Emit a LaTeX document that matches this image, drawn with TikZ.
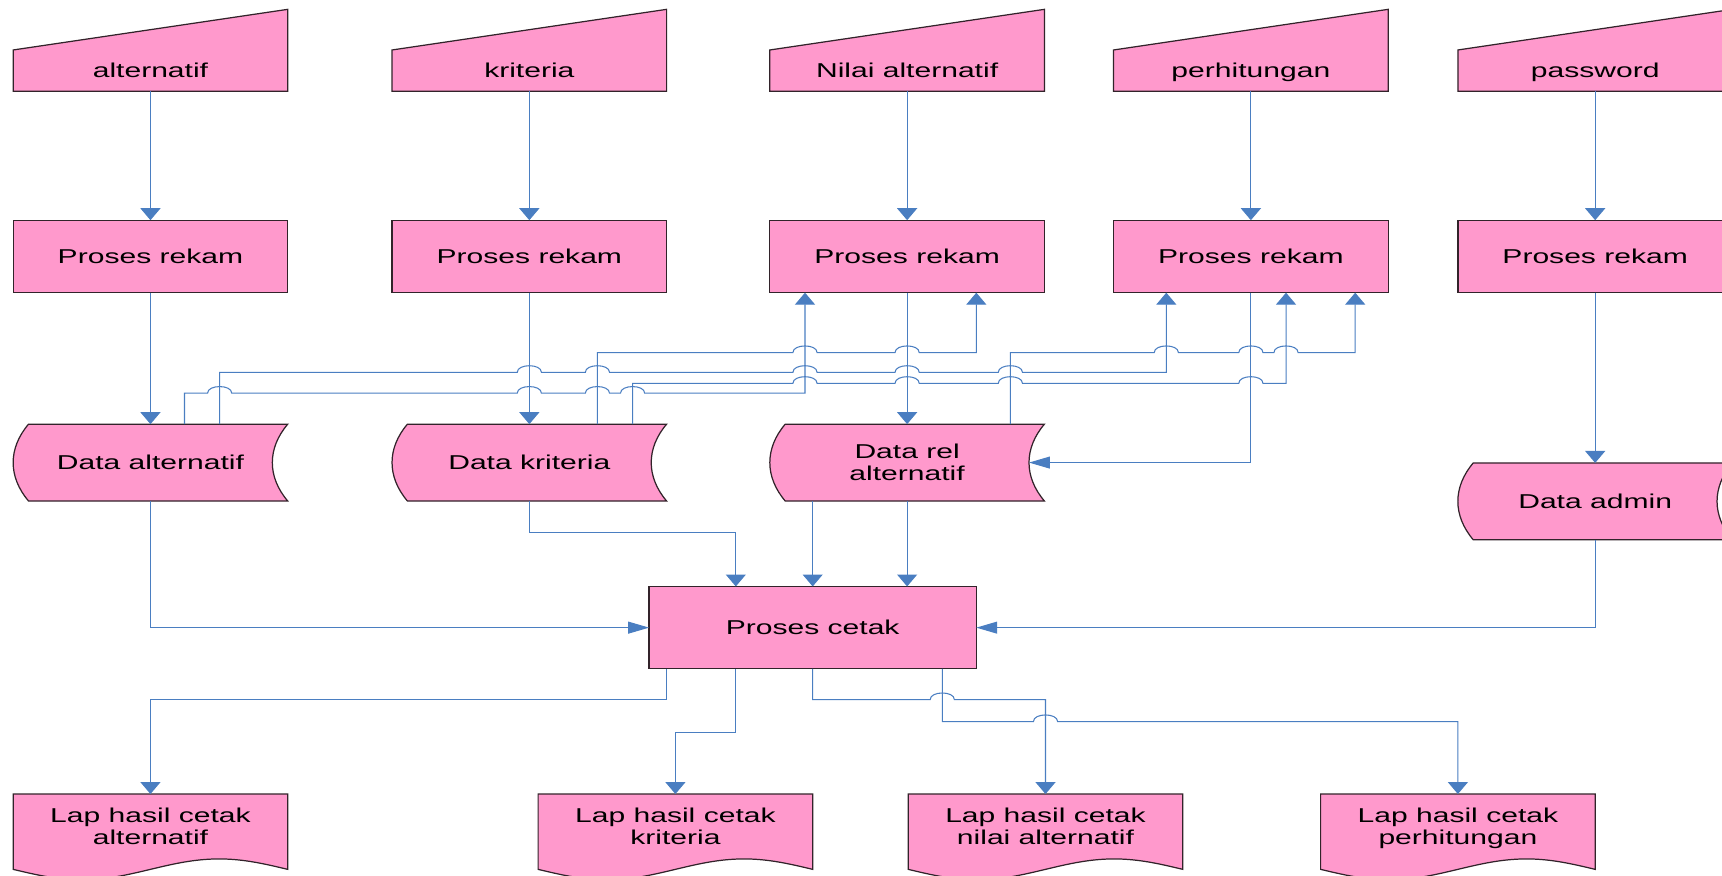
\documentclass[tikz,border=0pt]{standalone}
\usepackage{fontspec}
\setmainfont{Liberation Sans}[FakeStretch=1.5]
\usetikzlibrary{arrows.meta,calc,backgrounds}

\definecolor{boxpink}{RGB}{255,153,204}
\definecolor{flowblue}{RGB}{74,126,193}
\definecolor{edgedark}{RGB}{50,35,42}

% one drawing unit
\def\pu{0.021964cm}

% a horizontal line hopping over a vertical one at x=#1, y=#2
\newcommand\jumpover[2]{-- ({#1-11},#2) .. controls ({#1-11},{#2-8}) and ({#1+11},{#2-8}) .. ({#1+11},#2)}

\tikzset{
  lbl/.style={font=\fontsize{11.4}{12.5}\selectfont, text=black, align=center,
              inner sep=0pt, outer sep=0pt, text depth=0pt, minimum width=250*\pu},
  shapefill/.style={fill=boxpink, draw=edgedark, line width=0.7pt},
  procbox/.style={lbl, rectangle, shapefill, minimum height=66*\pu},
  inbox/.style={lbl, minimum height=37.5*\pu},
  storebox/.style={lbl, minimum height=70*\pu},
  docbox/.style={lbl, minimum height=58*\pu},
  flow/.style={draw=flowblue, line width=0.6pt},
  vtip/.style={flow, -{Triangle[width=11.4pt,length=6.8pt]}},
  htip/.style={flow, -{Triangle[width=6.8pt,length=11.9pt]}},
}

\begin{document}
\begin{tikzpicture}[x=\pu, y=-\pu]
\useasboundingbox (0,0) rectangle (1568,797);
\clip (0,0) rectangle (1568,797);

% manual inputs
\node[inbox] (inp1) at (137,64.25) {alternatif};
\node[inbox] (inp2) at (482,64.25) {kriteria};
\node[inbox] (inp3) at (826,64.25) {Nilai alternatif};
\node[inbox] (inp4) at (1139,64.25) {perhitungan};
\node[inbox] (inp5) at (1452.5,64.25) {password};

% record processes
\node[procbox] (rek1) at (137,233.5) {Proses rekam};
\node[procbox] (rek2) at (482,233.5) {Proses rekam};
\node[procbox] (rek3) at (826,233.5) {Proses rekam};
\node[procbox] (rek4) at (1139,233.5) {Proses rekam};
\node[procbox] (rek5) at (1452.5,233.5) {Proses rekam};

% stored data
\node[storebox] (ds1) at (137,421.2) {Data alternatif};
\node[storebox] (ds2) at (482,421.2) {Data kriteria};
\node[storebox] (ds3) at (826,421.2) {Data rel\\alternatif};
\node[storebox] (ds4) at (1452.5,456.5) {Data admin};

% print process
\node[procbox, minimum width=298*\pu, minimum height=75*\pu] (pc) at (740,571.5) {Proses cetak};

% reports
\node[docbox] (lap1) at (137,752) {Lap hasil cetak\\alternatif};
\node[docbox] (lap2) at (615,752) {Lap hasil cetak\\kriteria};
\node[docbox] (lap3) at (952,752) {Lap hasil cetak\\nilai alternatif};
\node[docbox] (lap4) at (1327.5,752) {Lap hasil cetak\\perhitungan};

\begin{pgfonlayer}{background}
  \foreach \n in {inp1,inp2,inp3,inp4,inp5}
    \path[shapefill] (\n.south west) -- (\n.north west)
      -- ($(\n.north east)+(0,-37)$) -- (\n.south east) -- cycle;
  \foreach \n in {ds1,ds2,ds3,ds4}
    \path[shapefill] ($(\n.north west)+(14,0)$) -- (\n.north east)
      .. controls ($(\n.north east)+(-18.7,22)$) and ($(\n.south east)+(-18.7,-22)$) .. (\n.south east)
      -- ($(\n.south west)+(14,0)$)
      .. controls ($(\n.south west)+(-4.7,-22)$) and ($(\n.north west)+(-4.7,22)$) .. ($(\n.north west)+(14,0)$)
      -- cycle;
  \foreach \n in {lap1,lap2,lap3,lap4}
    \path[shapefill] (\n.north west) -- (\n.north east) -- ($(\n.north east)+(0,68.6)$)
      sin ($(\n.north east)+(-62.5,59.1)$) cos ($(\n.north)+(0,68.6)$)
      sin ($(\n.north west)+(62.5,78.1)$) cos ($(\n.north west)+(0,68.6)$) -- cycle;
\end{pgfonlayer}

% inputs to record processes
\foreach \i in {1,...,5}
  \draw[vtip] (inp\i.south) -- (rek\i.north);

% record processes to stored data
\draw[vtip] (rek1.south) -- (ds1.north);
\draw[vtip] (rek2.south) -- (ds2.north);
\draw[vtip] (rek3.south) -- (ds3.north);
\draw[vtip] (rek5.south) -- (ds4.north);
\draw[htip] (rek4.south) |- ($(ds3.east)+(-14,0)$);

% stored data back to record processes
\draw[vtip] (168,0 |- ds1.north) -- (168,358) \jumpover{200}{358} \jumpover{482}{358}
  \jumpover{544}{358} \jumpover{576}{358} -- (733,358) -- (733,0 |- rek3.south);
\draw[vtip] (200,0 |- ds1.north) -- (200,339) \jumpover{482}{339} \jumpover{544}{339}
  \jumpover{733}{339} \jumpover{826}{339} \jumpover{920}{339} -- (1062,339) -- (1062,0 |- rek4.south);
\draw[vtip] (544,0 |- ds2.north) -- (544,321) \jumpover{733}{321} \jumpover{826}{321}
  -- (889,321) -- (889,0 |- rek3.south);
\draw[vtip] (576,0 |- ds2.north) -- (576,349) \jumpover{733}{349} \jumpover{826}{349}
  \jumpover{920}{349} \jumpover{1139}{349} -- (1171,349) -- (1171,0 |- rek4.south);
\draw[vtip] (920,0 |- ds3.north) -- (920,321) \jumpover{1062}{321} \jumpover{1139}{321}
  \jumpover{1171}{321} -- (1234,321) -- (1234,0 |- rek4.south);

% stored data to print process
\draw[htip] (ds1.south) |- (pc.west);
\draw[vtip] (ds2.south) -- (482,485) -| (670,0 |- pc.north);
\draw[vtip] (740,0 |- ds3.south) -- (pc.north);
\draw[vtip] (ds3.south) -- (826,0 |- pc.north);
\draw[htip] (ds4.south) |- (pc.east);

% print process to reports
\draw[vtip] (607,0 |- pc.south) -- (607,637) -| (lap1.north);
\draw[vtip] (670,0 |- pc.south) -- (670,667) -| (lap2.north);
\draw[vtip] (pc.south) -- (740,637) \jumpover{858}{637} -| (lap3.north);
\draw[vtip] (858,0 |- pc.south) -- (858,657) \jumpover{952}{657} -| (lap4.north);
\end{tikzpicture}
\end{document}
